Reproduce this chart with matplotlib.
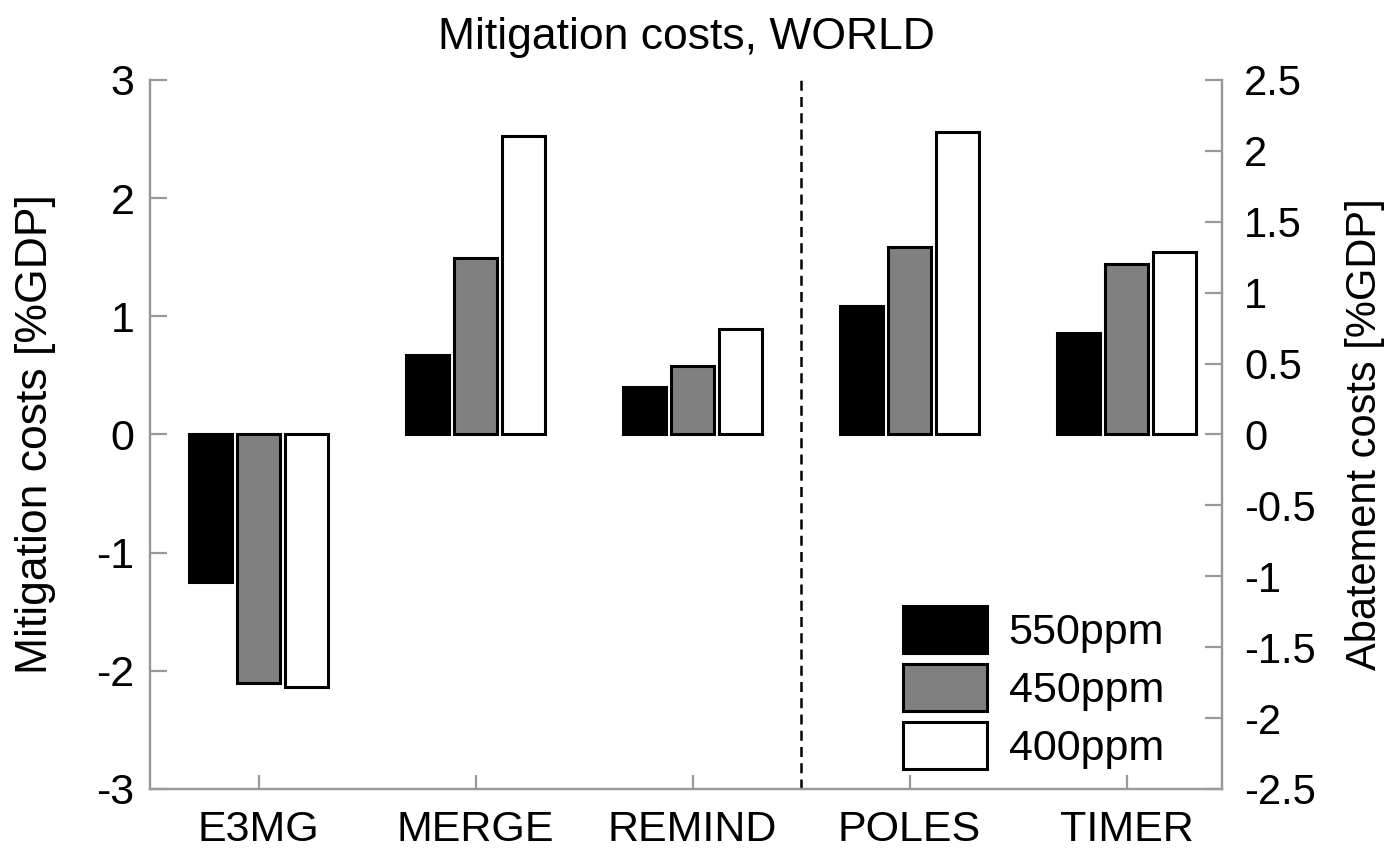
import numpy as np
import matplotlib
matplotlib.use('Agg')
import matplotlib.pyplot as plt

plt.rcParams['font.family'] = ['Liberation Sans', 'DejaVu Sans']
plt.rcParams['axes.unicode_minus'] = False

modelos = ['E3MG', 'MERGE', 'REMIND', 'POLES', 'TIMER']
cenarios = ['550ppm', '450ppm', '400ppm']
v_550 = [-1.25, 0.67, 0.40, 1.09, 0.86]
v_450 = [-2.10, 1.49, 0.58, 1.59, 1.44]
v_400 = [-2.14, 2.53, 0.89, 2.56, 1.54]
cores = ['black', '#808080', 'white']

cinza = '#999999'
x = np.arange(1, len(modelos) + 1)
larg = 0.2
desloc = 0.222
fs = 31

fig = plt.figure(figsize=(13.89, 8.49), dpi=100)
ax = fig.add_axes([0.108, 0.0707, 0.7718, 0.8351])

for k, (vals, cor, nome) in enumerate(zip([v_550, v_450, v_400], cores, cenarios)):
    ax.bar(x + (k - 1) * desloc, vals, width=larg, color=cor,
           edgecolor='black', linewidth=2.2, label=nome)

ax.axvline(3.5, color='black', linestyle=(0, (4, 2.5)), linewidth=1.8)

ax.set_xlim(0.5, 5.44)
ax.set_ylim(-3, 3)
ax.set_yticks(np.arange(-3, 4, 1))
ax.set_xticks(x)
ax.set_xticklabels(modelos)
ax.set_ylabel('Mitigation costs [%GDP]', fontsize=fs + 1, labelpad=29)
ax.set_title('Mitigation costs, WORLD', fontsize=fs + 1, pad=22)

ax2 = ax.twinx()
ax2.set_ylim(-2.5, 2.5)
ax2.set_yticks(np.arange(-2.5, 2.6, 0.5))
ax2.set_yticklabels([f'{t:g}' for t in np.arange(-2.5, 2.6, 0.5)])
ax2.set_ylabel('Abatement costs [%GDP]', fontsize=fs - 1, labelpad=21)

for a in (ax, ax2):
    a.spines['top'].set_visible(False)
    for s in ('left', 'right', 'bottom'):
        a.spines[s].set_color(cinza)
        a.spines[s].set_linewidth(1.6)
    a.tick_params(direction='in', length=12, width=1.6, color=cinza,
                  labelsize=fs)
ax.tick_params(axis='y', pad=11)
ax2.tick_params(axis='y', pad=16, labelsize=fs - 1)
ax.tick_params(axis='x', length=10, pad=15)

ax.legend(loc='lower right', bbox_to_anchor=(0.97, -0.008), frameon=False,
          fontsize=fs, handlelength=1.95, handleheight=1.3,
          labelspacing=0.25, handletextpad=0.5, borderaxespad=0.2)

fig.savefig('out.png', dpi=100)
